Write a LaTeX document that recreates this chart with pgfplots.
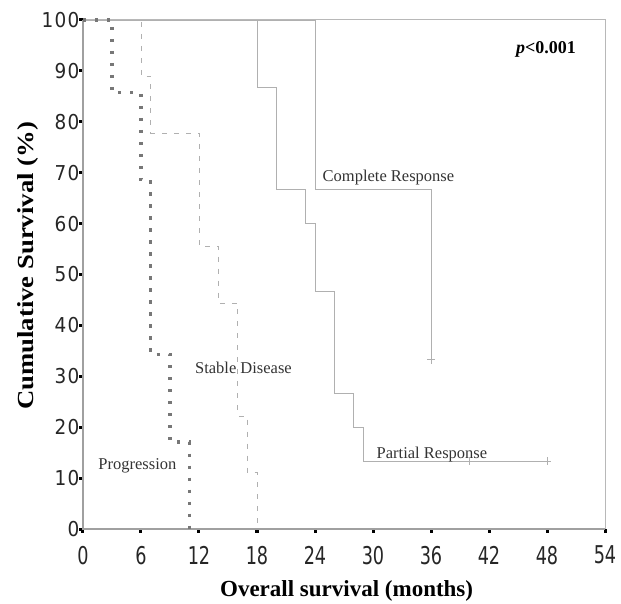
\documentclass[border=0pt]{standalone}
\usepackage{fontspec}
\setmainfont{Liberation Serif}
\newfontfamily\ytickfont[LetterSpace=6]{DejaVu Sans Condensed}
\newfontfamily\xtickfont[FakeStretch=0.8]{DejaVu Sans Condensed}
\usepackage{graphicx}
\usepackage{pgfplots}
\pgfplotsset{compat=1.18}
\definecolor{curvegray}{HTML}{B0B0B0}
\definecolor{progray}{HTML}{777777}
\definecolor{framegray}{HTML}{A0A0A0}
\definecolor{txtgray}{HTML}{333333}
\begin{document}
\begin{tikzpicture}
\useasboundingbox (-83pt,-74pt) rectangle (538pt,529pt);
\begin{axis}[
  at={(0pt,0pt)}, anchor=south west,
  scale only axis, width=522pt, height=509pt,
  xmin=0, xmax=54, ymin=0, ymax=100,
  xtick={0,6,...,54}, ytick={0,10,...,100},
  tick pos=left,
  tick align=outside,
  major tick length=3.5pt,
  every tick/.style={black, line width=3pt},
  axis line style={draw=none},
  /pgf/number format/assume math mode=true,
  yticklabel style={font=\ytickfont\fontsize{20.5}{20.5}\selectfont, text=black!85, inner xsep=0pt},
  xticklabel style={font=\xtickfont\fontsize{24.5}{24.5}\selectfont, text=black!85, yshift=-10pt},
  xlabel={Overall survival (months)},
  ylabel={\scalebox{1.16}[1]{Cumulative Survival (\%)}},
  label style={font=\bfseries\fontsize{23}{23}\selectfont},
  xlabel style={at={(axis description cs:0.505,-0.1225)}, anchor=center},
  ylabel style={at={(axis description cs:-0.1054,0.517)}, anchor=center, rotate=0},
  clip=false,
]
% frame
\draw[framegray, line width=1.2pt] (axis cs:0,100) -- (axis cs:0,0) -- (axis cs:54,0);
\draw[curvegray!90, line width=1pt] (axis cs:0,100) -- (axis cs:54,100) -- (axis cs:54,0);

% Complete Response
\addplot[const plot, curvegray, line width=0.9pt] coordinates {
  (0,100) (24,100) (24,66.7) (36,66.7) (36,33.3)
};
\addplot[only marks, mark=+, mark size=4pt, curvegray, line width=0.8pt] coordinates {(36,33.3)};

% Partial Response
\addplot[const plot, curvegray, line width=0.9pt] coordinates {
  (0,100) (18,100) (18,86.7) (20,86.7) (20,66.7) (23,66.7) (23,60) (24,60)
  (24,46.7) (26,46.7) (26,26.7) (28,26.7) (28,20) (29,20) (29,13.3) (48,13.3)
};
\addplot[only marks, mark=+, mark size=4pt, curvegray, line width=0.8pt] coordinates {(40,13.3) (48,13.3)};

% Stable Disease
\addplot[const plot, curvegray, line width=0.9pt, dash pattern=on 5pt off 7pt] coordinates {
  (0,100) (6,100) (6,88.9) (7,88.9) (7,77.8) (12,77.8) (12,55.6) (14,55.6)
  (14,44.4) (16,44.4) (16,22.2) (17,22.2) (17,11.1) (18,11.1) (18,0)
};

% Progression
\addplot[const plot, progray, line width=3.2pt, dash pattern=on 3.2pt off 8.8pt] coordinates {
  (0,100) (3,100) (3,85.7) (6,85.7) (6,68.6) (7,68.6) (7,34.3) (9,34.3)
  (9,17.1) (11,17.1) (11,0)
};

% annotations
\node[anchor=base, text=txtgray, font=\fontsize{16.5}{16.5}\selectfont] at (axis cs:31.6,68.2) {Complete Response};
\node[anchor=base, text=txtgray, font=\fontsize{16.5}{16.5}\selectfont] at (axis cs:16.6,30.6) {Stable Disease};
\node[anchor=base, text=txtgray, font=\fontsize{16.5}{16.5}\selectfont] at (axis cs:5.63,11.7) {Progression};
\node[anchor=base, text=txtgray, font=\fontsize{16.5}{16.5}\selectfont] at (axis cs:36.1,13.9) {Partial Response};
\node[anchor=center, font=\bfseries\fontsize{18}{18}\selectfont] at (axis cs:47.9,94.3) {\textit{p}<0.001};
\end{axis}
\end{tikzpicture}
\end{document}
